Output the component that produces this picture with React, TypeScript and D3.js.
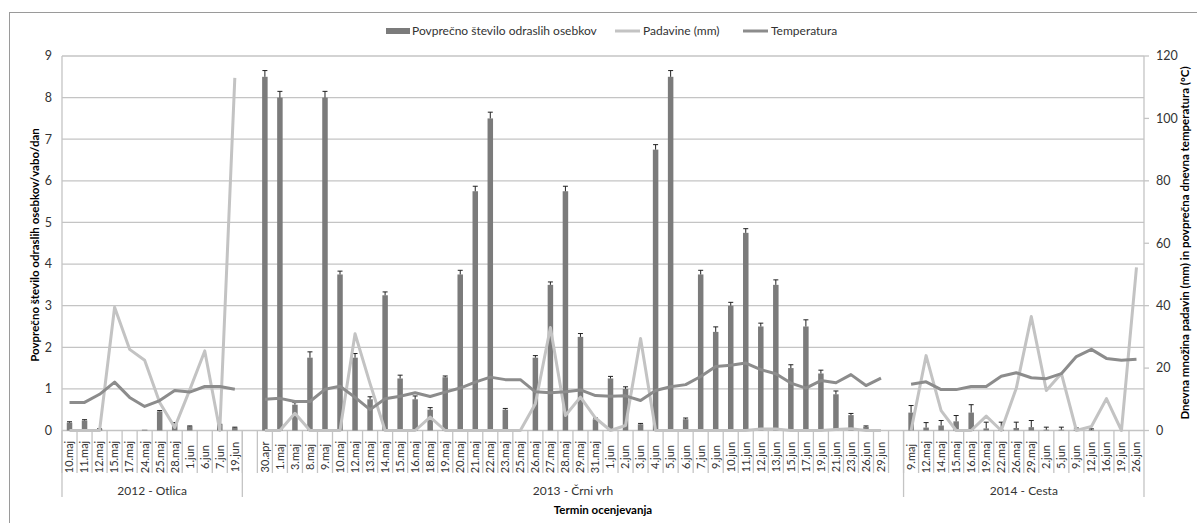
import React from "react";
import * as d3 from "d3";

// 2012 - Otlica
const cats2012 = ["10.maj", "11.maj", "12.maj", "15.maj", "17.maj", "24.maj", "25.maj", "28.maj", "1.jun", "6.jun", "7.jun", "19.jun"];
const adults2012 = [0.19, 0.24, 0.03, 0, 0, 0.02, 0.46, 0.17, 0.1, 0, 0.14, 0.07];
const err2012 = [0.02, 0.02, 0.01, 0, 0, 0, 0.02, 0.02, 0.01, 0, 0.01, 0.01];
const rain2012 = [0, 0, 0, 39.5, 26, 22.5, 9, 1, 13, 25.5, 0, 113];
const temp2012 = [9, 9, 11.6, 15.5, 10.6, 7.7, 9.6, 12.8, 12.3, 14.1, 14.1, 13.2];

// 2013 - Črni vrh (empty slot at both ends)
const cats2013 = ["", "30.apr", "1.maj", "3.maj", "8.maj", "9.maj", "10.maj", "12.maj", "13.maj", "14.maj", "15.maj", "16.maj", "18.maj", "19.maj", "20.maj", "21.maj", "22.maj", "23.maj", "25.maj", "26.maj", "27.maj", "28.maj", "29.maj", "31.maj", "1.jun", "2.jun", "3.jun", "4.jun", "5.jun", "6.jun", "7.jun", "9.jun", "10.jun", "11.jun", "12.jun", "13.jun", "15.jun", "17.jun", "19.jun", "21.jun", "23.jun", "26.jun", "29.jun", ""];
const adults2013 = [null, 8.5, 8.0, 0.62, 1.75, 8.0, 3.75, 1.75, 0.75, 3.25, 1.25, 0.75, 0.5, 1.28, 3.75, 5.75, 7.5, 0.5, 0, 1.75, 3.5, 5.75, 2.25, 0.27, 1.25, 1.0, 0.15, 6.75, 8.5, 0.27, 3.75, 2.37, 3.0, 4.75, 2.5, 3.5, 1.5, 2.5, 1.37, 0.87, 0.37, 0.09, 0, null];
const err2013 = [null, 0.15, 0.15, 0.05, 0.14, 0.15, 0.08, 0.1, 0.06, 0.08, 0.08, 0.08, 0.05, 0.03, 0.1, 0.12, 0.15, 0.03, 0, 0.05, 0.07, 0.12, 0.08, 0.03, 0.05, 0.05, 0.02, 0.12, 0.15, 0.03, 0.1, 0.12, 0.08, 0.1, 0.08, 0.12, 0.08, 0.16, 0.08, 0.08, 0.04, 0.02, 0, null];
const rain2013 = [null, 0, 0, 5.5, 0, 0, 0, 31, 15, 0, 0, 0, 4.3, 0, 0, 0, 0, 0, 0, 8.6, 33, 4.8, 10.7, 4, 0, 1.6, 29.5, 0, 0, 0, 0, 0, 0, 0, 0.5, 0.5, 0, 0, 0, 0.3, 0.6, 0, 0, null];
const temp2013 = [null, 10, 10.3, 9.3, 9.3, 13.2, 14.2, 10.6, 6.7, 10.2, 11, 12.1, 10.9, 12.3, 13.6, 15.5, 17.1, 16.3, 16.3, 12.4, 12.1, 12.4, 13, 11.2, 11, 11.1, 9.6, 12.8, 14, 14.7, 17.3, 20.5, 20.9, 21.6, 19.5, 18.2, 15.2, 13.6, 16, 15.3, 17.9, 14.4, 16.8, null];

// 2014 - Cesta
const cats2014 = ["9.maj", "12.maj", "14.maj", "15.maj", "16.maj", "19.maj", "22.maj", "26.maj", "29.maj", "2.jun", "5.jun", "9.jun", "12.jun", "16.jun", "19.jun", "26.jun"];
const adults2014 = [0.43, 0.07, 0.12, 0.22, 0.43, 0.05, 0.02, 0.06, 0.08, 0.02, 0.02, 0.02, 0.02, 0, 0, 0];
const err2014 = [0.17, 0.12, 0.12, 0.14, 0.19, 0.15, 0.18, 0.14, 0.16, 0.06, 0.06, 0.04, 0.02, 0, 0, 0];
const rain2014 = [0, 24, 6.4, 0, 0, 4.6, 0, 13.5, 36.5, 12.8, 18.3, 0, 1.3, 10.2, 0, 52.3];
const temp2014 = [14.8, 15.6, 13.1, 13.1, 14.1, 14.1, 17.4, 18.5, 16.9, 16.6, 18.2, 23.7, 26, 23.1, 22.5, 22.8];

const groupNames = ["2012 - Otlica", "2013 - Črni vrh", "2014 - Cesta"];
const leftTicks = [0, 1, 2, 3, 4, 5, 6, 7, 8, 9];
const rightTicks = [0, 20, 40, 60, 80, 100, 120];

const FONT = "Lato, 'Open Sans', sans-serif";
const BAR = "#7b7b7b";
const RAIN = "#c3c3c3";
const TEMP = "#8c8c8c";
const GRID = "#c4c4c4";
const TXT = "#333";

type Row = { key: string; label: string; adults: number | null; err: number | null; rain: number | null; temp: number | null };

const groupsRaw = [
  { cats: cats2012, adults: adults2012, err: err2012, rain: rain2012, temp: temp2012 },
  { cats: cats2013, adults: adults2013, err: err2013, rain: rain2013, temp: temp2013 },
  { cats: cats2014, adults: adults2014, err: err2014, rain: rain2014, temp: temp2014 },
];

const rows: Row[] = [];
const groups: { name: string; first: string; last: string }[] = [];
groupsRaw.forEach((g, gi) => {
  g.cats.forEach((c, i) => {
    rows.push({ key: `${gi}-${i}`, label: c, adults: g.adults[i], err: g.err[i], rain: g.rain[i], temp: g.temp[i] });
  });
  groups.push({ name: groupNames[gi], first: `${gi}-0`, last: `${gi}-${g.cats.length - 1}` });
});

const W = 1197;
const H = 523;
const left = 62;
const right = 1144;
const top = 56;
const bottom = 430.5;

export default function App() {
  const x = d3.scaleBand<string>().domain(rows.map((r) => r.key)).range([left, right]);
  const bw = x.bandwidth();
  const yL = d3.scaleLinear().domain([0, 9]).range([bottom, top]);
  const yR = d3.scaleLinear().domain([0, 120]).range([bottom, top]);
  const cx = (k: string) => (x(k) as number) + bw / 2;
  const barW = 5.5;

  const rainLine = d3
    .line<Row>()
    .defined((d) => d.rain != null)
    .x((d) => cx(d.key))
    .y((d) => yR(d.rain as number));
  const tempLine = d3
    .line<Row>()
    .defined((d) => d.temp != null)
    .x((d) => cx(d.key))
    .y((d) => yR(d.temp as number));

  return (
    <svg width={W} height={H} style={{ position: "absolute", left: 0, top: 0, background: "#fff" }} fontFamily={FONT}>
      <rect x={9.5} y={12.5} width={1200} height={520} fill="#fff" stroke="#9a9a9a" />

      {/* gridlines */}
      {leftTicks.map((t) => (
        <line key={t} x1={left} x2={right} y1={yL(t)} y2={yL(t)} stroke={GRID} strokeWidth={1.3} />
      ))}

      {/* axes */}
      <line x1={left} x2={left} y1={top} y2={497} stroke={GRID} strokeWidth={1.3} />
      <line x1={right} x2={right} y1={top} y2={497} stroke={GRID} strokeWidth={1.3} />
      {rightTicks.map((t) => (
        <line key={t} x1={right} x2={right + 5} y1={yR(t)} y2={yR(t)} stroke={GRID} strokeWidth={1.3} />
      ))}

      {/* category ticks */}
      {rows.map((r) => (
        <line key={r.key} x1={x(r.key) as number} x2={x(r.key) as number} y1={bottom} y2={473} stroke={GRID} strokeWidth={1.3} />
      ))}
      {groups.slice(1).map((g) => (
        <line key={g.name} x1={x(g.first) as number} x2={x(g.first) as number} y1={bottom} y2={497} stroke={GRID} strokeWidth={1.3} />
      ))}

      {/* bars */}
      {rows
        .filter((r) => r.adults != null)
        .map((r) => (
          <rect key={r.key} x={cx(r.key) - barW / 2} y={yL(r.adults as number)} width={barW} height={bottom - yL(r.adults as number)} fill={BAR} />
        ))}

      {/* error bars */}
      {rows
        .filter((r) => r.err != null && (r.err as number) > 0)
        .map((r) => {
          const y0 = yL(r.adults as number);
          const y1 = yL((r.adults as number) + (r.err as number));
          return (
            <g key={r.key} stroke="#222" strokeWidth={1}>
              <line x1={cx(r.key)} x2={cx(r.key)} y1={y0} y2={y1} />
              <line x1={cx(r.key) - 2.5} x2={cx(r.key) + 2.5} y1={y1} y2={y1} />
            </g>
          );
        })}

      {/* lines */}
      <path d={rainLine(rows) || ""} fill="none" stroke={RAIN} strokeWidth={3} strokeLinejoin="round" />
      <path d={tempLine(rows) || ""} fill="none" stroke={TEMP} strokeWidth={3} strokeLinejoin="round" />

      {/* axis labels */}
      {leftTicks.map((t) => (
        <text key={t} x={52} y={yL(t)} dy="0.35em" textAnchor="end" fontSize={12.5} fill={TXT}>
          {t}
        </text>
      ))}
      {rightTicks.map((t) => (
        <text key={t} x={1156} y={yR(t)} dy="0.35em" textAnchor="start" fontSize={12.5} fill={TXT}>
          {t}
        </text>
      ))}

      {/* category labels */}
      {rows
        .filter((r) => r.label !== "")
        .map((r) => (
          <text
            key={r.key}
            transform={`translate(${cx(r.key)},457) rotate(-90)`}
            dy="0.35em"
            textAnchor="middle"
            fontSize={11}
            fill={TXT}
          >
            {r.label}
          </text>
        ))}

      {/* group labels */}
      {groups.map((g) => {
        const x0 = x(g.first) as number;
        const x1 = (x(g.last) as number) + bw;
        return (
          <text key={g.name} x={(x0 + x1) / 2} y={491} dy="0.35em" textAnchor="middle" fontSize={12} fill={TXT}>
            {g.name}
          </text>
        );
      })}

      <text x={(left + right) / 2} y={510} dy="0.35em" textAnchor="middle" fontSize={11.5} fontWeight="bold" fill="#000">
        Termin ocenjevanja
      </text>
      <text transform="translate(35,245) rotate(-90)" dy="0.35em" textAnchor="middle" fontSize={11.5} fontWeight="bold" fill="#000">
        Povprečno število odraslih osebkov/vabo/dan
      </text>
      <text transform="translate(1185,243) rotate(-90)" dy="0.35em" textAnchor="middle" fontSize={11.5} fontWeight="bold" fill="#000">
        Dnevna množina padavin (mm) in povprečna dnevna temperatura (°C)
      </text>

      {/* legend */}
      <rect x={386} y={28} width={24} height={6} fill={BAR} />
      <text x={412} y={31} dy="0.35em" fontSize={12} fill={TXT}>
        Povprečno število odraslih osebkov
      </text>
      <line x1={615} x2={640} y1={31} y2={31} stroke={RAIN} strokeWidth={3} />
      <text x={643} y={31} dy="0.35em" fontSize={12} fill={TXT}>
        Padavine (mm)
      </text>
      <line x1={743} x2={768} y1={31} y2={31} stroke={TEMP} strokeWidth={3} />
      <text x={771} y={31} dy="0.35em" fontSize={12} fill={TXT}>
        Temperatura
      </text>
    </svg>
  );
}
